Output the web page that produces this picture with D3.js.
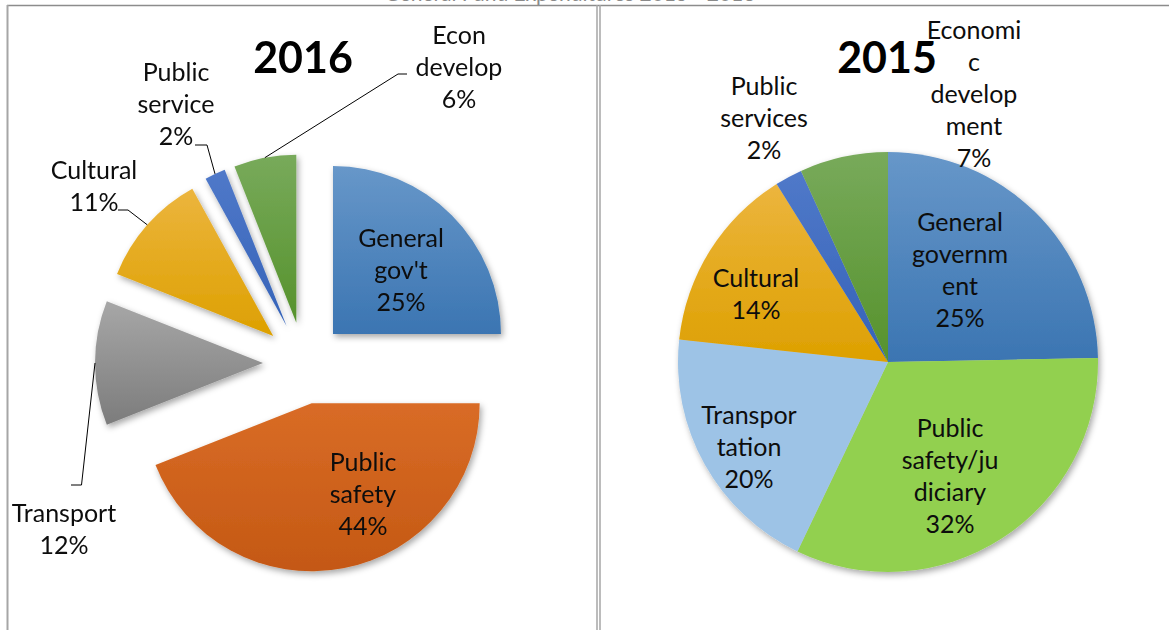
<!DOCTYPE html>
<html>
<head>
<meta charset="utf-8">
<script src="https://cdn.jsdelivr.net/npm/d3@7"></script>
<style>
  body { margin: 0; background: #fff; }
  svg { display: block; }
  text { font-family: Lato, 'Open Sans', sans-serif; fill: #0d0d0d; }
</style>
</head>
<body>
<svg id="chart"></svg>
<script>
// ---- data ----
const years = ['2016', '2015']

const categories2016 = ["General gov't", 'Public safety', 'Transport', 'Cultural', 'Public service', 'Econ develop']
const values2016 = [25, 44, 12, 11, 2, 6]
const labelLines2016 = [['General', "gov't"], ['Public', 'safety'], ['Transport'], ['Cultural'], ['Public', 'service'], ['Econ', 'develop']]

const categories2015 = ['General government', 'Public safety/judiciary', 'Transportation', 'Cultural', 'Public services', 'Economic development']
const values2015 = [24.7, 32.4, 19.6, 14.4, 2.1, 6.8]
const labelLines2015 = [['General', 'governm', 'ent'], ['Public', 'safety/ju', 'diciary'], ['Transpor', 'tation'], ['Cultural'], ['Public', 'services'], ['Economi', 'c', 'develop', 'ment']]

// ---- styling / layout ----
const width = 1169
const height = 630
const fontSize = 25
const lineGap = 32

// top / bottom colours of each slice gradient
const colors2016 = [
  ['#6797c9', '#3b75b2'],
  ['#d96c26', '#c45814'],
  ['#a7a7a7', '#7c7c7c'],
  ['#ecb53e', '#dda000'],
  ['#5079c9', '#3462b8'],
  ['#78aa5b', '#56922c']
]
const colors2015 = [
  ['#6797c9', '#3b75b2'],
  ['#92d050', '#92d050'],
  ['#9dc3e6', '#9dc3e6'],
  ['#ecb53e', '#dda000'],
  ['#5079c9', '#3462b8'],
  ['#78aa5b', '#56922c']
]

// label block centres, relative to each pie centre
const labelOffset2016 = [[97, -93], [59, 131], [-240, 166], [-210, -177], [-128, -259], [155, -296]]
const labelOffset2015 = [[72, -92], [62, 114], [-139, 85], [-132, -68], [-124, -244], [86, -268]]

// leader lines for outside labels of 2016: elbow point and short horizontal tick
const leaders2016 = {
  2: { elbow: [-222.5, 122], tick: -10.5 },
  3: { elbow: [-176, -153], tick: -10 },
  4: { elbow: [-97, -218], tick: -12 },
  5: { elbow: [94, -289], tick: 9 }
}

const svg = d3.select('#chart').attr('width', width).attr('height', height)
const defs = svg.append('defs')

const shadow = defs.append('filter')
  .attr('id', 'sliceShadow')
  .attr('x', '-20%').attr('y', '-20%').attr('width', '140%').attr('height', '140%')
shadow.append('feDropShadow')
  .attr('dx', 2).attr('dy', 3).attr('stdDeviation', 3)
  .attr('flood-color', '#000').attr('flood-opacity', 0.35)

function addGradients(prefix, colors) {
  colors.forEach((c, i) => {
    const g = defs.append('linearGradient')
      .attr('id', `${prefix}-${i}`)
      .attr('x1', 0).attr('y1', 0).attr('x2', 0).attr('y2', 1)
    g.append('stop').attr('offset', '0%').attr('stop-color', c[0])
    g.append('stop').attr('offset', '100%').attr('stop-color', c[1])
  })
}
addGradients('g16', colors2016)
addGradients('g15', colors2015)

// ---- frame (document table borders) ----
const frame = svg.append('g').attr('fill', 'none')
frame.append('line').attr('x1', 7).attr('x2', width).attr('y1', 5.5).attr('y2', 5.5)
  .attr('stroke', '#8c8c8c').attr('stroke-width', 1.5)
frame.append('line').attr('x1', 7.5).attr('x2', 7.5).attr('y1', 5).attr('y2', height)
  .attr('stroke', '#a6a6a6').attr('stroke-width', 2)
;[597, 600].forEach(x => {
  frame.append('line').attr('x1', x).attr('x2', x).attr('y1', 5).attr('y2', height)
    .attr('stroke', '#a6a6a6').attr('stroke-width', 1.5)
})

// heading above the table, mostly scrolled out of view
svg.append('text')
  .attr('x', 570).attr('y', 0.5)
  .attr('text-anchor', 'middle')
  .attr('font-size', '21px')
  .style('fill', '#8a8a8a')
  .text('General Fund Expenditures 2015 - 2016')

const pie = d3.pie().sort(null).value(d => d)

function pt(angle, r) {
  return [r * Math.sin(angle), -r * Math.cos(angle)]
}

function drawLabel(g, lines, pct, cx, cy) {
  const all = lines.concat([pct])
  const n = all.length
  const t = g.append('text')
    .attr('text-anchor', 'middle')
    .attr('font-size', `${fontSize}px`)
  all.forEach((s, i) => {
    t.append('tspan')
      .attr('x', cx)
      .attr('y', cy + (i - (n - 1) / 2) * lineGap)
      .attr('dy', '0.35em')
      .text(s)
  })
}

// ---- 2016: exploded pie ----
function drawPie2016() {
  const cx = 304, cy = 363, r = 168, explode = 41
  const g = svg.append('g').attr('transform', `translate(${cx},${cy})`)
  const arcs = pie(values2016)
  const arc = d3.arc().innerRadius(0).outerRadius(r)

  const slices = g.append('g').attr('filter', 'url(#sliceShadow)')
  slices.selectAll('path')
    .data(arcs)
    .enter().append('path')
    .attr('transform', d => {
      const o = pt((d.startAngle + d.endAngle) / 2, explode)
      return `translate(${o[0]},${o[1]})`
    })
    .attr('d', arc)
    .attr('fill', (d, i) => `url(#g16-${i})`)

  // leader lines
  const line = d3.line()
  Object.entries(leaders2016).forEach(([k, L]) => {
    const d = arcs[+k]
    const mid = (d.startAngle + d.endAngle) / 2
    const o = pt(mid, explode)
    const e = pt(mid, r)
    const end = [o[0] + e[0], o[1] + e[1]]
    const start = [L.elbow[0] + L.tick, L.elbow[1]]
    g.append('path')
      .attr('d', line([start, L.elbow, end]))
      .attr('fill', 'none')
      .attr('stroke', '#000')
      .attr('stroke-width', 1)
  })

  arcs.forEach((d, i) => {
    const off = labelOffset2016[i]
    drawLabel(g, labelLines2016[i], Math.round(values2016[i]) + '%', off[0], off[1])
  })

  g.append('text')
    .attr('x', -1).attr('y', -290)
    .attr('text-anchor', 'middle')
    .attr('font-size', '43px')
    .attr('font-weight', 'bold')
    .style('fill', '#000')
    .text(years[0])
}

// ---- 2015: plain pie ----
function drawPie2015() {
  const cx = 888, cy = 362, r = 210
  const g = svg.append('g').attr('transform', `translate(${cx},${cy})`)
  const arcs = pie(values2015)
  const arc = d3.arc().innerRadius(0).outerRadius(r)

  const slices = g.append('g').attr('filter', 'url(#sliceShadow)')
  slices.selectAll('path')
    .data(arcs)
    .enter().append('path')
    .attr('d', arc)
    .attr('fill', (d, i) => `url(#g15-${i})`)

  arcs.forEach((d, i) => {
    const off = labelOffset2015[i]
    drawLabel(g, labelLines2015[i], Math.round(values2015[i]) + '%', off[0], off[1])
  })

  g.append('text')
    .attr('x', -1).attr('y', -289)
    .attr('text-anchor', 'middle')
    .attr('font-size', '43px')
    .attr('font-weight', 'bold')
    .style('fill', '#000')
    .text(years[1])
}

drawPie2016()
drawPie2015()
</script>
</body>
</html>
